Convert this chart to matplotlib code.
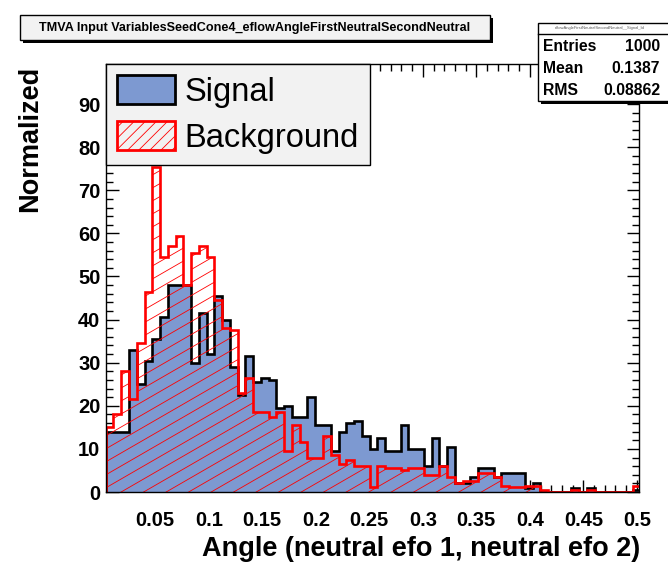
"""TMVA input variable plot: eflowAngleFirstNeutralSecondNeutral, signal vs background."""

import matplotlib

matplotlib.use("Agg")
import matplotlib.pyplot as plt
import numpy as np
from matplotlib.collections import LineCollection
from matplotlib.patches import Patch, Rectangle
from matplotlib.ticker import FixedLocator, MultipleLocator
from matplotlib.transforms import IdentityTransform

W, H = 668, 567

# Histogram binning (69 bins of equal width)
x_lo = 0.00375
bin_w = 0.00725
n_bins = 69

signal = [14, 14, 14, 33, 25, 30.5, 35.5, 40.5, 48, 48,
          48, 30, 41.5, 32, 45.5, 40, 29, 22.5, 31.5, 25.5,
          26.5, 26, 19.5, 20, 17.5, 17.5, 22, 15.5, 15.5, 9.5,
          14, 16, 16.5, 13, 10, 12.5, 9.5, 9.5, 15.5, 10,
          10, 6, 12.5, 6, 10.5, 2, 2, 3.5, 5.5, 5.5,
          3.5, 4.5, 4.5, 4.5, 1, 2, 0, 0, 0, 0,
          1, 0, 1, 0, 0, 0, 0, 0, 0.5]
background = [15, 18, 28, 21.5, 34.5, 46.5, 75.5, 54.5, 57, 59.5,
              48, 55.5, 57, 54.5, 44.5, 38, 37.5, 23, 26.5, 18.5,
              18.5, 17.5, 18.5, 9.5, 15.5, 11.5, 8, 8, 13, 8.5,
              6.5, 7.5, 6, 6, 1.2, 6, 5.5, 5.5, 5, 5.5,
              5.5, 4, 4, 6, 3.5, 2, 2.5, 2.5, 4.5, 4.5,
              3.5, 1.5, 1.2, 1.2, 1.5, 1.5, 0.5, 0, 0, 0,
              0.5, 0, 0.5, 0, 0, 0, 0, 0, 1.5]

x_ticks = [0.05, 0.1, 0.15, 0.2, 0.25, 0.3, 0.35, 0.4, 0.45, 0.5]
x_tick_labels = ["0.05", "0.1", "0.15", "0.2", "0.25", "0.3", "0.35", "0.4", "0.45", "0.5"]
y_ticks = [0, 10, 20, 30, 40, 50, 60, 70, 80, 90]

stats_labels = ["Entries", "Mean", "RMS"]
stats_values = ["1000", "0.1387", "0.08862"]
stats_name = "eflowAngleFirstNeutralSecondNeutral__Signal_Id"

title = "TMVA Input VariablesSeedCone4_eflowAngleFirstNeutralSecondNeutral"
x_title = "Angle (neutral efo 1, neutral efo 2)"
y_title = "Normalized"

SIG_FILL = "#7d99d1"
BKG_LINE = "#ff0000"
FONT = "Liberation Sans"

plt.rcParams["font.family"] = FONT
plt.rcParams["hatch.linewidth"] = 0.6

edges = x_lo + bin_w * np.arange(n_bins + 1)

fig = plt.figure(figsize=(W / 100, H / 100), dpi=100)
fig.patch.set_facecolor("white")

# axes frame in pixel coordinates of the reference
left, right, top, bottom = 106, 639, 64, 492
ax = fig.add_axes([left / W, 1 - bottom / H, (right - left) / W, (bottom - top) / H])

ax.stairs(signal, edges, fill=True, color=SIG_FILL, zorder=2)
ax.stairs(signal, edges, color="black", lw=1.9, zorder=3)
bkg_patch = ax.stairs(background, edges, fill=True, facecolor="none",
                      edgecolor=BKG_LINE, lw=1.9, zorder=5)

ax.set_xlim(0.004, 0.502)
ax.set_ylim(0, 99.3)

# ROOT-like hatch (~30 deg lines), clipped to the background histogram
slope = np.tan(np.radians(30))
spacing = 13.0  # vertical px between hatch lines
x0d, y0d, x1d, y1d = ax.bbox.extents
offsets = np.arange(y0d - slope * (x1d - x0d), y1d + spacing, spacing)
segs = [[(x0d, c), (x1d, c + slope * (x1d - x0d))] for c in offsets]
hatch = LineCollection(segs, colors=BKG_LINE, linewidths=0.6,
                       transform=IdentityTransform(), zorder=4)
ax.add_collection(hatch, autolim=False)
hatch.set_clip_path(bkg_patch)

ax.xaxis.set_major_locator(FixedLocator(x_ticks))
ax.set_xticklabels(x_tick_labels)
ax.xaxis.set_minor_locator(MultipleLocator(0.01))
ax.yaxis.set_major_locator(FixedLocator(y_ticks))
ax.yaxis.set_minor_locator(MultipleLocator(2))
ax.tick_params(which="both", direction="in", top=True, right=True, width=1.0,
               color="black")
ax.tick_params(which="major", length=9)
ax.tick_params(which="minor", length=5)
ax.tick_params(axis="x", which="major", pad=14)
ax.tick_params(axis="y", which="major", pad=4)
for lab in ax.get_xticklabels() + ax.get_yticklabels():
    lab.set_fontweight("bold")
    lab.set_fontsize(14.5)
for sp in ax.spines.values():
    sp.set_linewidth(1.0)
    sp.set_zorder(6)

# legend
handles = [
    Patch(facecolor=SIG_FILL, edgecolor="black", lw=2),
    Patch(facecolor="none", edgecolor=BKG_LINE, hatch="///", lw=2),
]
leg = ax.legend(handles, ["Signal", "Background"], loc="upper left",
                bbox_to_anchor=(0, 1), borderaxespad=0, fontsize=23.5,
                fancybox=False, framealpha=1, facecolor="#f2f2f2",
                edgecolor="black", handlelength=1.75, handleheight=0.95,
                handletextpad=0.3, borderpad=0.35, labelspacing=0.42)
leg.get_frame().set_linewidth(1.0)
leg.set_zorder(7)

# axis titles
fig.text(640 / W, 1 - 549 / H, x_title, ha="right", va="center",
         fontsize=19.5, fontweight="bold")
fig.text(30 / W, 1 - 66 / H, y_title, ha="center", va="top", rotation=90,
         fontsize=19.5, fontweight="bold")


def px_box(x0, y0, x1, y1, face, shadow=4):
    """Draw a ROOT-style pave with drop shadow, in reference pixel coords."""
    fig.patches.append(Rectangle(((x0 + shadow) / W, 1 - (y1 + shadow) / H),
                                 (x1 - x0) / W, (y1 - y0) / H,
                                 transform=fig.transFigure, facecolor="black",
                                 edgecolor="none", zorder=1))
    fig.patches.append(Rectangle((x0 / W, 1 - y1 / H), (x1 - x0) / W, (y1 - y0) / H,
                                 transform=fig.transFigure, facecolor=face,
                                 edgecolor="black", lw=1.0, zorder=2))


# title pave
px_box(20, 15, 490, 40, "#f2f2f2", shadow=3)
fig.text(255 / W, 1 - 27.5 / H, title, ha="center", va="center",
         fontsize=9.1, fontweight="bold", zorder=3)

# stats pave
px_box(538, 23, 672, 101, "white", shadow=3)
fig.lines.append(plt.Line2D([538 / W, 1.0], [1 - 34 / H, 1 - 34 / H],
                            transform=fig.transFigure, color="black", lw=1.0,
                            zorder=3))
fig.text(600 / W, 1 - 28.5 / H, stats_name, ha="center", va="center",
         fontsize=3, color="#555555", zorder=3)
for i, (lab, val) in enumerate(zip(stats_labels, stats_values)):
    yy = 1 - (46.5 + 21.8 * i) / H
    fig.text(543 / W, yy, lab, ha="left", va="center", fontsize=11.3,
             fontweight="bold", zorder=3)
    fig.text(660 / W, yy, val, ha="right", va="center", fontsize=11.3,
             fontweight="bold", zorder=3)

fig.savefig("out.png", dpi=100)
